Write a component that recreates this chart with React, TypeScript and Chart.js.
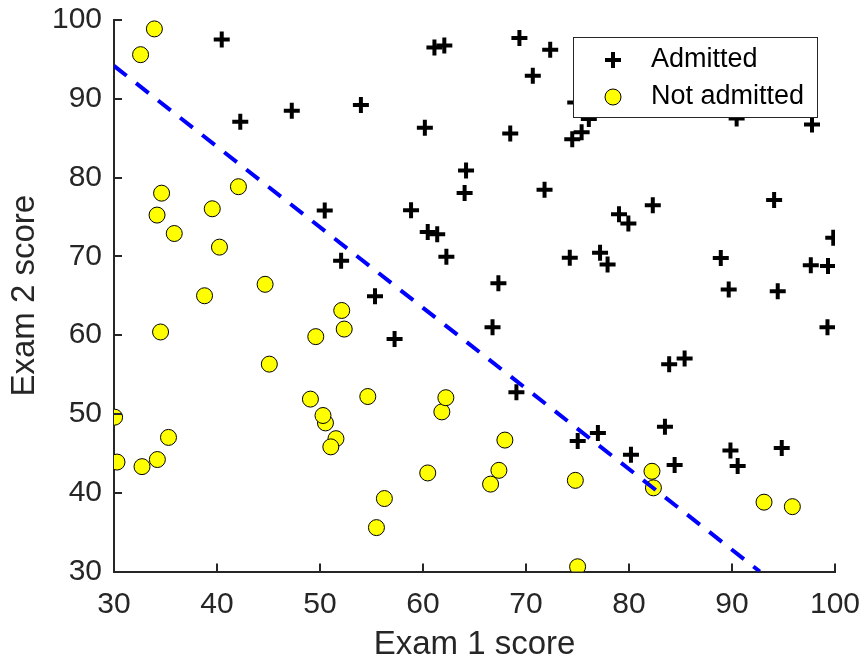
import React, { useEffect, useRef } from "react";
import { Chart, registerables } from "chart.js";

Chart.register(...registerables);

// Exam scores (ex2data1)
const admittedExam1 = [
  60.18, 79.03, 61.11, 75.02, 76.10, 84.43, 82.31, 69.36, 53.97, 69.07, 70.66, 76.98,
  89.68, 77.92, 62.27, 80.19, 61.38, 85.40, 52.05, 64.18, 83.90, 94.44, 77.19, 97.77,
  62.07, 91.56, 79.94, 99.27, 90.55, 97.65, 74.25, 71.80, 75.40, 40.46, 80.28, 66.75,
  64.04, 72.35, 60.46, 58.84, 99.83, 47.26, 50.46, 88.91, 94.83, 67.32, 57.24, 80.37,
  68.47, 75.48, 78.64, 94.09, 90.45, 74.49, 89.85, 83.49, 42.26, 99.32, 55.34, 74.78,
];
const admittedExam2 = [
  86.31, 75.34, 96.51, 46.55, 87.42, 43.53, 76.48, 97.72, 89.21, 52.74, 92.93, 47.58,
  65.80, 68.97, 69.95, 44.82, 72.81, 57.05, 69.43, 80.91, 56.31, 65.57, 70.46, 86.73,
  96.77, 88.70, 74.16, 61.00, 43.39, 68.86, 69.82, 78.45, 85.76, 97.54, 92.12, 60.99,
  78.03, 96.23, 73.09, 75.86, 72.37, 88.48, 75.81, 69.80, 45.69, 66.59, 59.51, 90.96,
  85.59, 90.42, 96.65, 77.16, 87.51, 84.85, 45.36, 48.38, 87.10, 68.78, 64.93, 89.53,
];
const notAdmittedExam1 = [
  34.62, 30.29, 35.85, 45.08, 95.86, 75.01, 39.54, 67.95, 67.37, 50.53, 34.21, 93.11,
  61.83, 38.79, 52.11, 40.24, 54.64, 33.92, 74.79, 34.18, 51.55, 82.37, 51.05, 62.22,
  34.52, 50.29, 49.59, 32.58, 35.29, 56.25, 30.06, 44.67, 66.56, 49.07, 32.72, 60.46,
  82.23, 42.08, 52.35, 55.48,
];
const notAdmittedExam2 = [
  78.02, 43.89, 72.90, 56.32, 38.23, 30.60, 76.04, 46.68, 42.84, 48.86, 44.21, 38.80,
  50.26, 65.00, 63.13, 71.17, 52.21, 98.87, 41.57, 75.24, 46.86, 40.62, 45.82, 52.06,
  60.40, 49.80, 59.81, 95.60, 47.02, 39.26, 49.59, 66.45, 41.09, 51.88, 43.31, 42.51,
  42.72, 78.84, 60.77, 35.57,
];
// Decision boundary endpoints (within the axes)
const boundaryExam1 = [30, 92.7];
const boundaryExam2 = [94.17, 30];

const xTicks = [30, 40, 50, 60, 70, 80, 90, 100];
const yTicks = [30, 40, 50, 60, 70, 80, 90, 100];
const seriesLabels = ["Admitted", "Not admitted"];
const xTitle = "Exam 1 score";
const yTitle = "Exam 2 score";

const FONT = "'Liberation Sans', Arial, Helvetica, sans-serif";
const AXIS_COLOR = "#262626";

const zip = (a: number[], b: number[]) => a.map((v, i) => ({ x: v, y: b[i] }));

function drawPlus(ctx: CanvasRenderingContext2D, x: number, y: number) {
  ctx.save();
  ctx.strokeStyle = "#000";
  ctx.lineWidth = 4;
  ctx.beginPath();
  ctx.moveTo(x - 8, y);
  ctx.lineTo(x + 8, y);
  ctx.moveTo(x, y - 8);
  ctx.lineTo(x, y + 8);
  ctx.stroke();
  ctx.restore();
}
function drawCircle(ctx: CanvasRenderingContext2D, x: number, y: number) {
  ctx.save();
  ctx.fillStyle = "#ffff00";
  ctx.strokeStyle = "#000";
  ctx.lineWidth = 1;
  ctx.beginPath();
  ctx.arc(x, y, 8, 0, Math.PI * 2);
  ctx.fill();
  ctx.stroke();
  ctx.restore();
}

const tickMarksPlugin = {
  id: "inwardTicks",
  afterDraw(chart: any) {
    const { ctx, chartArea, scales } = chart;
    ctx.save();
    ctx.strokeStyle = AXIS_COLOR;
    ctx.lineWidth = 2;
    ctx.beginPath();
    xTicks.forEach((v) => {
      const px = Math.round(scales.x.getPixelForValue(v));
      ctx.moveTo(px, chartArea.bottom);
      ctx.lineTo(px, chartArea.bottom - 8);
    });
    yTicks.forEach((v) => {
      const py = Math.round(scales.y.getPixelForValue(v));
      ctx.moveTo(chartArea.left, py);
      ctx.lineTo(chartArea.left + 8, py);
    });
    ctx.stroke();
    ctx.restore();
  },
};

const legendPlugin = {
  id: "boxLegend",
  afterDraw(chart: any) {
    const { ctx } = chart;
    const bx = 573.5, by = 37.5, bw = 244, bh = 80;
    ctx.save();
    ctx.fillStyle = "#fff";
    ctx.fillRect(bx, by, bw, bh);
    ctx.strokeStyle = "#262626";
    ctx.lineWidth = 1;
    ctx.strokeRect(bx, by, bw, bh);
    drawPlus(ctx, 613, 60);
    drawCircle(ctx, 613, 97);
    ctx.fillStyle = "#000";
    ctx.font = `27px ${FONT}`;
    ctx.textBaseline = "middle";
    ctx.textAlign = "left";
    ctx.fillText(seriesLabels[0], 651, 60);
    ctx.fillText(seriesLabels[1], 651, 97);
    ctx.restore();
  },
};

export default function App() {
  const ref = useRef<HTMLCanvasElement>(null);
  useEffect(() => {
    if (!ref.current) return;
    const chart = new Chart(ref.current, {
      type: "scatter",
      data: {
        datasets: [
          {
            type: "line",
            label: "Decision boundary",
            data: zip(boundaryExam1, boundaryExam2),
            borderColor: "#0000ff",
            borderWidth: 4,
            borderDash: [16, 12],
            pointRadius: 0,
            fill: false,
            order: 0,
          } as any,
          {
            label: seriesLabels[1],
            data: zip(notAdmittedExam1, notAdmittedExam2),
            pointStyle: "circle",
            pointRadius: 8,
            pointHoverRadius: 8,
            backgroundColor: "#ffff00",
            borderColor: "#000",
            borderWidth: 1,
            order: 1,
          },
          {
            label: seriesLabels[0],
            data: zip(admittedExam1, admittedExam2),
            pointStyle: "cross",
            pointRadius: 8,
            pointHoverRadius: 8,
            backgroundColor: "#000",
            borderColor: "#000",
            borderWidth: 4,
            order: 2,
          },
        ],
      },
      options: {
        animation: false,
        responsive: false,
        devicePixelRatio: 1,
        events: [],
        layout: { padding: { top: 20, right: 29, left: 0, bottom: 0 } },
        plugins: { legend: { display: false }, tooltip: { enabled: false } },
        scales: {
          x: {
            type: "linear",
            min: 30,
            max: 100,
            afterFit: (s: any) => {
              s.height = 88.5;
              s.paddingLeft = 0;
              s.paddingRight = 0;
            },
            afterBuildTicks: (s: any) => {
              s.ticks = xTicks.map((v) => ({ value: v }));
            },
            grid: { display: false, drawTicks: false },
            border: { display: true, color: AXIS_COLOR, width: 2 },
            ticks: {
              padding: 15,
              color: AXIS_COLOR,
              font: { family: FONT, size: 30 },
              maxRotation: 0,
            },
            title: {
              display: true,
              text: xTitle,
              color: AXIS_COLOR,
              font: { family: FONT, size: 33 },
              padding: { top: 0, bottom: -5 },
            },
          },
          y: {
            type: "linear",
            min: 30,
            max: 100,
            afterFit: (s: any) => {
              s.width = 114;
              s.paddingTop = 0;
              s.paddingBottom = 0;
            },
            afterBuildTicks: (s: any) => {
              s.ticks = yTicks.map((v) => ({ value: v }));
            },
            grid: { display: false, drawTicks: false },
            border: { display: true, color: AXIS_COLOR, width: 2 },
            ticks: {
              padding: 12,
              color: AXIS_COLOR,
              font: { family: FONT, size: 30 },
            },
            title: {
              display: true,
              text: yTitle,
              color: AXIS_COLOR,
              font: { family: FONT, size: 33 },
              padding: { top: 5, bottom: 0 },
            },
          },
        },
      },
      plugins: [tickMarksPlugin, legendPlugin],
    });
    return () => chart.destroy();
  }, []);
  return (
    <div style={{ position: "fixed", left: 0, top: 0, width: 864, height: 660, background: "#fff" }}>
      <canvas ref={ref} width={864} height={660} style={{ width: 864, height: 660 }} />
    </div>
  );
}
